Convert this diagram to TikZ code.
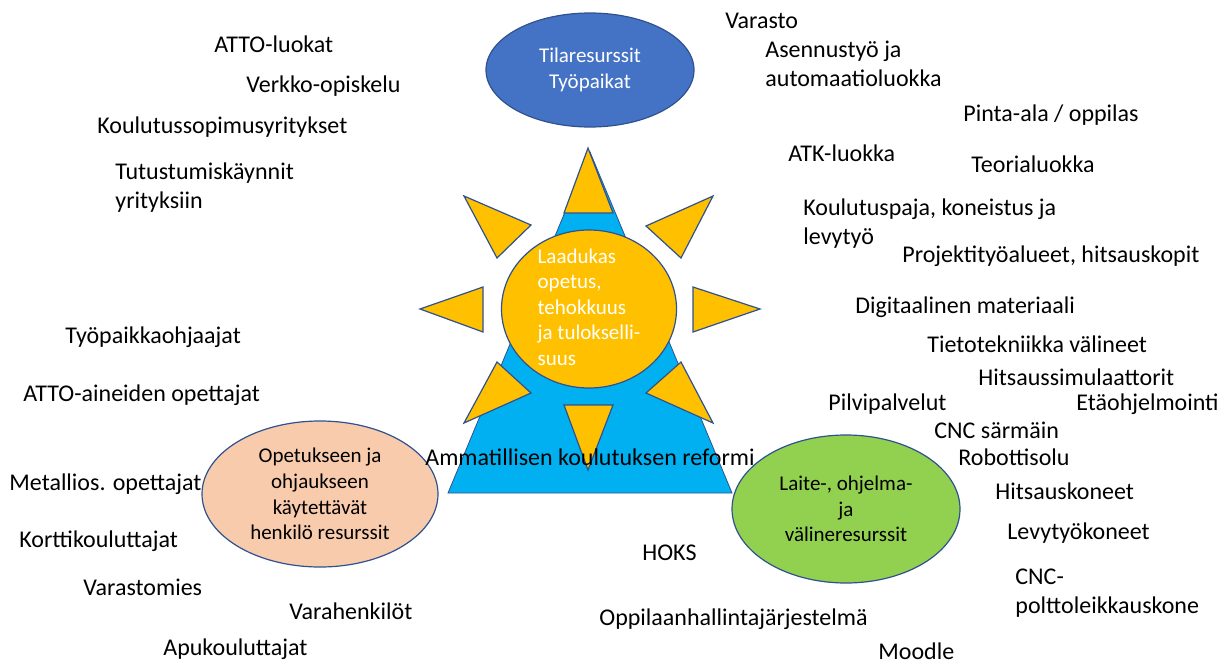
\documentclass[tikz,border=0pt]{standalone}
\usepackage{fontspec}
\setmainfont{Carlito}
\usetikzlibrary{shapes.geometric}

\definecolor{topblue}{HTML}{4472C4}
\definecolor{triblue}{HTML}{00B0F0}
\definecolor{sunyellow}{HTML}{FFC000}
\definecolor{peach}{HTML}{F8CBAD}
\definecolor{leafgreen}{HTML}{92D050}
\definecolor{edgeblue}{HTML}{2F528F}

\tikzstyle{item}=[anchor=base west, inner sep=0pt, align=left, font=\fontsize{12}{14.4}\selectfont]
\tikzstyle{bubble}=[ellipse, draw=edgeblue, line width=0.6pt, inner sep=0pt, align=center, font=\fontsize{10.5}{12.8}\selectfont]
\tikzstyle{ray}=[fill=sunyellow, draw=edgeblue, line width=0.6pt]

\begin{document}
\begin{tikzpicture}[x=0.5pt, y=-0.5pt]
      \useasboundingbox (0,0) rectangle (1225,664);

      \filldraw[fill=triblue, draw=edgeblue, line width=0.4pt] (590,152) -- (448,493) -- (732,493) -- cycle;
      \foreach \ax/\ay/\bx/\by/\cx/\cy in {588/148/564/213/613/213, 464/196/531/225/497/258,
        713/196/646/226/681/258, 420/309/483/287/483/332, 760/309/693/287/693/332,
        464/423/497/362/531/393, 713/423/681/362/646/393, 588/470/564/405/613/405}
        \filldraw[ray] (\ax,\ay) -- (\bx,\by) -- (\cx,\cy) -- cycle;
      \node[bubble, fill=sunyellow, minimum width=87.5pt, minimum height=79pt] (core) at (589,309) {};
      \node[inner sep=0pt, align=left, text=white, font=\fontsize{10.5}{12.8}\selectfont] (coretext) at (589,307)
        {Laadukas\\opetus,\\tehokkuus\\ja tulokselli-\\suus};

      \node[bubble, fill=topblue, text=white, minimum width=104pt, minimum height=57pt] (tila) at (590,70) {Tilaresurssit\\Työpaikat};
      \node[bubble, fill=peach, minimum width=118pt, minimum height=73pt] (henk) at (320,494)
        {Opetukseen ja\\ohjaukseen\\käytettävät\\henkilö resurssit};
      \node[bubble, fill=leafgreen, minimum width=114pt, minimum height=74pt] (laite) at (846,509)
        {Laite-, ohjelma-\\ja\\välineresurssit};

      \node[anchor=base, inner sep=0pt, font=\fontsize{12}{14.4}\selectfont] (reformi) at (590,465) {Ammatillisen koulutuksen reformi};

      \node[item] (attoluokat) at (214,52) {ATTO-luokat};
      \node[item] (verkko) at (246,92) {Verkko-opiskelu};
      \node[item] (sopimus) at (97,133) {Koulutussopimusyritykset};
      \node[item] (tutustum) at (115,208) {Tutustumiskäynnit\\yrityksiin};
      \node[item] (varasto) at (725,28) {Varasto};
      \node[item] (asennus) at (765,86) {Asennustyö ja\\automaatioluokka};
      \node[item] (pintaala) at (963,121) {Pinta-ala / oppilas};
      \node[item] (atk) at (788,161) {ATK-luokka};
      \node[item] (teoria) at (971,172) {Teorialuokka};
      \node[item] (paja) at (803,244) {Koulutuspaja, koneistus ja\\levytyö};
      \node[item] (projekti) at (902,262) {Projektityöalueet, hitsauskopit};
      \node[item] (digi) at (855,313) {Digitaalinen materiaali};
      \node[item] (tieto) at (927,352) {Tietotekniikka välineet};
      \node[item] (hsim) at (978,385) {Hitsaussimulaattorit};
      \node[item] (pilvi) at (828,410) {Pilvipalvelut};
      \node[item] (etaohj) at (1076,410) {Etäohjelmointi};
      \node[item] (sarmain) at (934,438) {CNC särmäin};
      \node[item] (robo) at (958,465) {Robottisolu};
      \node[item] (hkoneet) at (995,499) {Hitsauskoneet};
      \node[item] (levy) at (1007,539) {Levytyökoneet};
      \node[item] (poltto) at (1015,613) {CNC-\\polttoleikkauskone};
      \node[item] (hoks) at (642,560) {HOKS};
      \node[item] (oppilas) at (599,625) {Oppilaanhallintajärjestelmä};
      \node[item] (moodle) at (878,659) {Moodle};
      \node[item] (tpohj) at (65,343) {Työpaikkaohjaajat};
      \node[item] (attoope) at (23,401) {ATTO-aineiden opettajat};
      \node[item] (metalli) at (9,490) {Metallios. opettajat};
      \node[item] (kortti) at (19,547) {Korttikouluttajat};
      \node[item] (varmies) at (83,595) {Varastomies};
      \node[item] (varah) at (289,619) {Varahenkilöt};
      \node[item] (apu) at (163,655) {Apukouluttajat};
    \end{tikzpicture}
\end{document}
